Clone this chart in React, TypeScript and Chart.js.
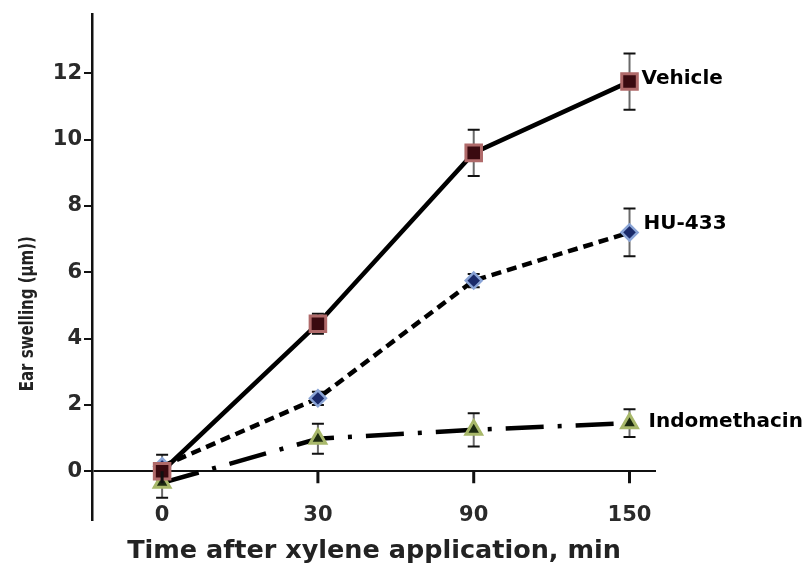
import React, { useEffect, useRef } from 'react';
import { Chart, registerables } from 'chart.js';

Chart.register(...registerables);

// ---- data ----
const timeLabels = ['0', '30', '90', '150'];
const xIndex = [0, 1, 2, 3];
const yTicks = [0, 2, 4, 6, 8, 10, 12];
const seriesNames = ['Vehicle', 'HU-433', 'Indomethacin'];
const vehicle = [0, 4.45, 9.6, 11.75];
const vehicleErr = [0.25, 0.3, 0.7, 0.85];
const hu433 = [0.15, 2.2, 5.75, 7.2];
const hu433Err = [0.35, 0.2, 0.2, 0.72];
const indo = [-0.35, 0.98, 1.25, 1.45];
const indoErr = [0.45, 0.45, 0.5, 0.42];

const FONT = '"DejaVu Sans", sans-serif';

const errors = [vehicleErr, hu433Err, indoErr];
const values = [vehicle, hu433, indo];

const errorBarPlugin = {
  id: 'errorBars',
  beforeDatasetsDraw(chart: any) {
    const { ctx } = chart;
    const yScale = chart.scales.y;
    ctx.save();
    values.forEach((vals, di) => {
      const meta = chart.getDatasetMeta(di);
      vals.forEach((v, j) => {
        const el = meta.data[j];
        if (!el) return;
        const x = el.x;
        const yt = yScale.getPixelForValue(v + errors[di][j]);
        const yb = yScale.getPixelForValue(v - errors[di][j]);
        ctx.strokeStyle = '#6a6a6a';
        ctx.lineWidth = 2;
        ctx.beginPath();
        ctx.moveTo(x, yt);
        ctx.lineTo(x, yb);
        ctx.stroke();
        ctx.strokeStyle = '#111';
        ctx.lineWidth = 2;
        ctx.beginPath();
        ctx.moveTo(x - 6, yt);
        ctx.lineTo(x + 6, yt);
        ctx.moveTo(x - 6, yb);
        ctx.lineTo(x + 6, yb);
        ctx.stroke();
      });
    });
    ctx.restore();
  },
};

const decorPlugin = {
  id: 'decor',
  afterDraw(chart: any) {
    const { ctx } = chart;
    const xScale = chart.scales.x;
    const yScale = chart.scales.y;
    const y0 = yScale.getPixelForValue(0);
    ctx.save();
    // x tick marks hanging from the zero line
    ctx.strokeStyle = '#111';
    ctx.lineWidth = 3;
    xIndex.forEach((v) => {
      const px = xScale.getPixelForValue(v);
      ctx.beginPath();
      ctx.moveTo(px, y0);
      ctx.lineTo(px, y0 + 12);
      ctx.stroke();
    });
    // series labels next to last points
    const offsets = [
      [12, -3],
      [14, -9],
      [19, -1],
    ];
    ctx.fillStyle = '#000';
    ctx.font = `bold 20px ${FONT}`;
    ctx.textAlign = 'left';
    ctx.textBaseline = 'middle';
    seriesNames.forEach((name, di) => {
      const meta = chart.getDatasetMeta(di);
      const el = meta.data[meta.data.length - 1];
      ctx.fillText(name, el.x + offsets[di][0], el.y + offsets[di][1]);
    });
    // y axis title
    ctx.translate(28, yScale.getPixelForValue(4.75));
    ctx.rotate(-Math.PI / 2);
    ctx.scale(1, 1.3);
    ctx.textAlign = 'center';
    ctx.fillStyle = '#222';
    ctx.font = `bold 15px ${FONT}`;
    ctx.fillText('Ear swelling (µm))', 0, 0);
    ctx.restore();
  },
};

export default function App() {
  const ref = useRef<HTMLCanvasElement | null>(null);
  useEffect(() => {
    if (!ref.current) return;
    const mk = (arr: number[]) => xIndex.map((x, i) => ({ x, y: arr[i] }));
    const chart = new Chart(ref.current, {
      type: 'line',
      data: {
        datasets: [
          {
            label: seriesNames[0],
            data: mk(vehicle),
            borderColor: '#000',
            borderWidth: 4.5,
            pointStyle: 'rect',
            pointRadius: 11,
            pointBackgroundColor: '#3a0a10',
            pointBorderColor: '#b06a6a',
            pointBorderWidth: 3,
            tension: 0,
            clip: false,
          },
          {
            label: seriesNames[1],
            data: mk(hu433),
            borderColor: '#000',
            borderWidth: 4.5,
            borderDash: [10, 6],
            pointStyle: 'rectRot',
            pointRadius: 8,
            pointBackgroundColor: '#1a2a6a',
            pointBorderColor: '#8aa4d6',
            pointBorderWidth: 2.5,
            tension: 0,
            clip: false,
          },
          {
            label: seriesNames[2],
            data: mk(indo),
            borderColor: '#000',
            borderWidth: 4.5,
            borderDash: [38, 14, 4, 14],
            pointStyle: 'triangle',
            pointRadius: 9,
            pointBackgroundColor: '#1c2a10',
            pointBorderColor: '#a8b86a',
            pointBorderWidth: 3,
            tension: 0,
            clip: false,
          },
        ],
      },
      options: {
        responsive: false,
        animation: false,
        layout: { padding: { top: 12, right: 146, left: 0, bottom: 0 } },
        plugins: { legend: { display: false }, tooltip: { enabled: false } },
        scales: {
          x: {
            type: 'linear',
            min: -0.45,
            max: 3.17,
            afterBuildTicks: (s: any) => {
              s.ticks = xIndex.map((v) => ({ value: v }));
            },
            afterFit: (s: any) => {
              s.height = 51;
            },
            grid: { display: false, drawTicks: false },
            border: { display: false },
            ticks: {
              autoSkip: false,
              maxRotation: 0,
              mirror: true,
              padding: -8,
              color: '#2a2a2a',
              font: { family: FONT, size: 21, weight: 'bold' },
              callback: (_v: any, i: number) => timeLabels[i],
            },
            title: {
              display: true,
              text: 'Time after xylene application, min',
              color: '#222',
              font: { family: FONT, size: 25.5, weight: 'bold' },
              padding: { top: 0, bottom: 4 },
            },
          },
          y: {
            type: 'linear',
            min: -1.47,
            max: 13.77,
            afterBuildTicks: (s: any) => {
              s.ticks = yTicks.map((v) => ({ value: v }));
            },
            afterFit: (s: any) => {
              s.width = 92;
            },
            border: { display: true, color: '#111', width: 2.5 },
            grid: {
              drawOnChartArea: true,
              color: (c: any) => (c.tick && c.tick.value === 0 ? '#111' : 'rgba(0,0,0,0)'),
              lineWidth: (c: any) => (c.tick && c.tick.value === 0 ? 2 : 0),
              tickColor: '#111',
              tickWidth: 2,
              tickLength: 8,
            },
            ticks: {
              padding: 2,
              color: '#2a2a2a',
              font: { family: FONT, size: 21, weight: 'bold' },
            },
          },
        },
      },
      plugins: [errorBarPlugin, decorPlugin],
    } as any);
    return () => chart.destroy();
  }, []);
  return (
    <div style={{ position: 'absolute', left: 0, top: 0, width: 802, height: 571, background: '#fff' }}>
      <canvas ref={ref} width={802} height={571} style={{ display: 'block' }} />
    </div>
  );
}
